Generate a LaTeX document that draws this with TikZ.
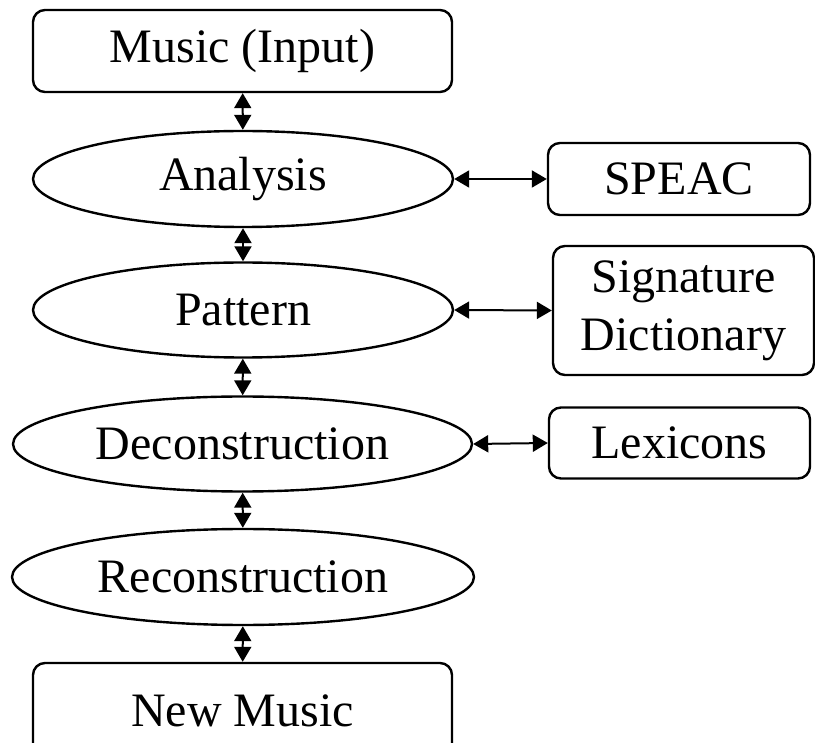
\documentclass[tikz,border=0pt]{standalone}
\usepackage{fontspec}
\setmainfont{Liberation Serif}
\usetikzlibrary{shapes.geometric}
\usetikzlibrary{arrows.meta}

\tikzset{
  stagebox/.style={draw,line width=2.4pt,rounded corners=12pt,inner sep=0pt},
  stageoval/.style={draw,ellipse,line width=2.4pt,inner sep=0pt},
  link/.style={line width=2pt,{Triangle[length=15pt,width=17pt]}-{Triangle[length=15pt,width=17pt]}}
}

\begin{document}
\begin{tikzpicture}[x=1pt,y=-1pt,font=\fontsize{48}{58}\selectfont]
 \path[use as bounding box,clip](0,0) rectangle (815,743);
 % main chain
 \node[stagebox,minimum width=419pt,minimum height=82pt](music) at (242.5,51){Music (Input)};
 \node[stageoval,minimum width=420pt,minimum height=96pt](analysis) at (243,179){Analysis};
 \node[stageoval,minimum width=420pt,minimum height=95pt](pattern) at (243,310){Pattern};
 \node[stageoval,minimum width=459pt,minimum height=95pt](decon) at (242.5,444){Deconstruction};
 \node[stageoval,minimum width=462pt,minimum height=96pt](recon) at (243,577){Reconstruction};
 \node[stagebox,minimum width=419pt,minimum height=96pt](newmusic) at (242.5,711){New Music};
 % side boxes
 \node[stagebox,minimum width=262pt,minimum height=72pt](speac) at (679,179){SPEAC};
 \node[stagebox,minimum width=261pt,minimum height=129pt,align=center](sigdict) at (683.5,310.5){Signature\\Dictionary};
 \node[stagebox,minimum width=261pt,minimum height=71pt](lexicons) at (679.5,443){Lexicons};
 \draw[link](music)--(analysis);
 \draw[link](analysis)--(pattern);
 \draw[link](pattern)--(decon);
 \draw[link](decon)--(recon);
 \draw[link](recon)--(newmusic);
 \draw[link](analysis.east)--(speac.west);
 \draw[link](pattern.east)--(sigdict.west);
 \draw[link](decon.east)--(lexicons.west);
\end{tikzpicture}
\end{document}
